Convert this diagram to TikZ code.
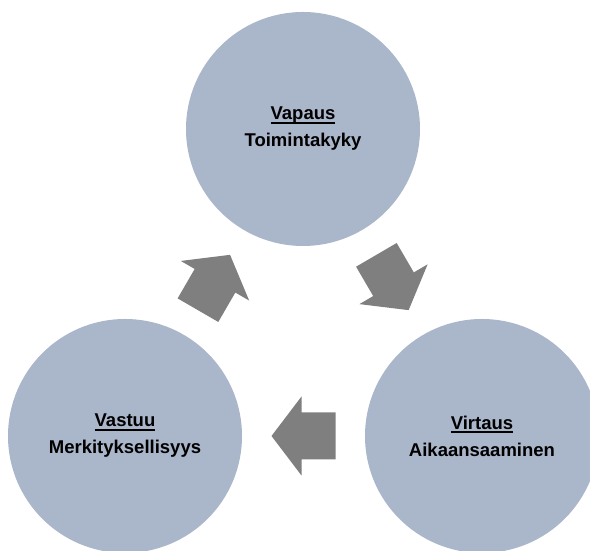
\documentclass[tikz,border=0pt]{standalone}
\usepackage{fontspec}
\setmainfont{Liberation Sans}
\usetikzlibrary{calc}
\definecolor{circfill}{RGB}{170,182,202}
\definecolor{arrfill}{RGB}{127,127,127}
\newcommand\ulx[1]{\setbox0\hbox{#1}\rlap{\rule[-4pt]{\wd0}{2pt}}\box0}
\tikzset{
  circ/.style={circle, fill=circfill, draw=none, minimum size=234pt, inner sep=0pt,
    align=center, font=\fontsize{18.5}{27}\selectfont\bfseries, text=black},
  cyclearrow/.pic={
    \fill[arrfill] (-32,-23.5) -- (2,-23.5) -- (2,-39.5) -- (32,0) -- (2,39.5) -- (2,23.5) -- (-32,23.5) -- cycle;
  }
}
\begin{document}
\begin{tikzpicture}[x=1pt,y=1pt]
\useasboundingbox (0,0) rectangle (590,551);
\node[circ] (t) at (303,422) {\ulx{Vapaus}\\Toimintakyky};
\node[circ] (br) at (482,115) {\ulx{Virtaus}\\Aikaansaaminen};
\node[circ] (bl) at (125,115) {\ulx{Vastuu}\\Merkityksellisyys};
\pic[rotate=-59.75] at ($(t.center)!0.5!(br.center)$) {cyclearrow};
\pic[rotate=180] at ($(br.center)!0.5!(bl.center)$) {cyclearrow};
\pic[rotate=59.9] at ($(bl.center)!0.5!(t.center)$) {cyclearrow};
\end{tikzpicture}
\end{document}
